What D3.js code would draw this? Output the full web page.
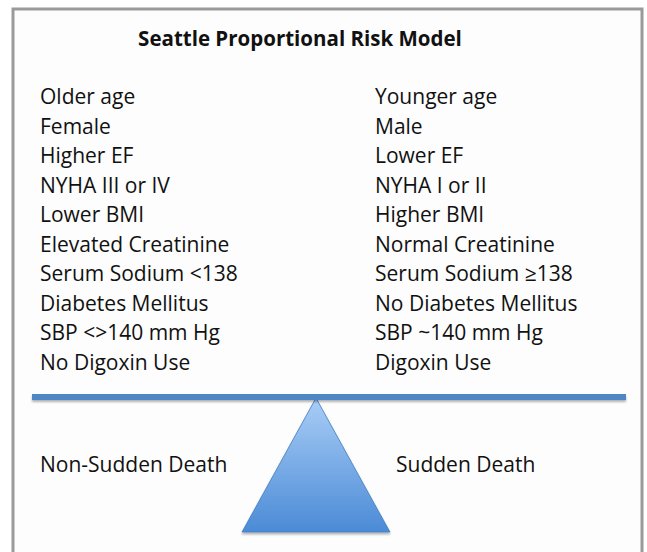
<!DOCTYPE html>
<html>
<head>
<meta charset="utf-8">
<script src="https://cdn.jsdelivr.net/npm/d3@7"></script>
<style>
  body { margin: 0; background: #fff; }
  text { font-family: "Open Sans", "Noto Sans", sans-serif; fill: #111; }
</style>
</head>
<body>
<svg id="chart"></svg>
<script>
var title = "Seattle Proportional Risk Model";

var nonSuddenFactors = [
    "Older age", "Female", "Higher EF", "NYHA III or IV", "Lower BMI",
    "Elevated Creatinine", "Serum Sodium <138", "Diabetes Mellitus",
    "SBP <>140 mm Hg", "No Digoxin Use"
];

var suddenFactors = [
    "Younger age", "Male", "Lower EF", "NYHA I or II", "Higher BMI",
    "Normal Creatinine", "Serum Sodium \u2265138", "No Diabetes Mellitus",
    "SBP ~140 mm Hg", "Digoxin Use"
];

var outcomes = ["Non-Sudden Death", "Sudden Death"];

var width = 647, height = 552;

var svg = d3.select("#chart")
    .attr("width", width)
    .attr("height", height);

var defs = svg.append("defs");

var grad = defs.append("linearGradient")
    .attr("id", "tri")
    .attr("x1", 0).attr("y1", 0).attr("x2", 0).attr("y2", 1);
grad.append("stop").attr("offset", "0%").attr("stop-color", "#a9cdf6");
grad.append("stop").attr("offset", "100%").attr("stop-color", "#4b8bd6");

var shadow = defs.append("filter").attr("id", "shadow")
    .attr("filterUnits", "userSpaceOnUse")
    .attr("x", 0).attr("y", 0).attr("width", width).attr("height", height);
shadow.append("feDropShadow")
    .attr("dx", 0).attr("dy", 2).attr("stdDeviation", 1.2)
    .attr("flood-color", "#000").attr("flood-opacity", 0.3);

// frame
svg.append("rect")
    .attr("x", 13).attr("y", 9)
    .attr("width", 629).attr("height", 560)
    .attr("fill", "#fdfdfd")
    .attr("stroke", "#9a9a9c")
    .attr("stroke-width", 3);

svg.append("text")
    .attr("x", 300).attr("y", 46)
    .attr("text-anchor", "middle")
    .style("font-size", "20.5px")
    .style("font-weight", "bold")
    .text(title);

// rows of factors
var y = d3.scalePoint()
    .domain(d3.range(nonSuddenFactors.length))
    .range([104, 370]);

var cols = [
    { x: 40, items: nonSuddenFactors },
    { x: 375, items: suddenFactors }
];

cols.forEach(function(c) {
    svg.append("g").selectAll("text")
        .data(c.items)
    .enter().append("text")
        .attr("x", c.x)
        .attr("y", function(d, i) { return y(i); })
        .style("font-size", "21px")
        .text(function(d) { return d; });
});

// the scale: beam and fulcrum
var apex = [316, 398];

svg.append("path")
    .attr("d", d3.line()([[apex[0], apex[1]], [390, 532], [242, 532]]) + "Z")
    .attr("fill", "url(#tri)")
    .attr("stroke", "#3f7dc4")
    .attr("stroke-width", 0.8)
    .attr("filter", "url(#shadow)");

svg.append("rect")
    .attr("x", 32).attr("width", 594)
    .attr("y", 394).attr("height", 6)
    .attr("fill", "#4f86c6")
    .attr("filter", "url(#shadow)");

svg.append("g").selectAll("text")
    .data(outcomes)
.enter().append("text")
    .attr("x", function(d, i) { return i === 0 ? 40 : 396; })
    .attr("y", 472)
    .style("font-size", "21px")
    .text(function(d) { return d; });
</script>
</body>
</html>
